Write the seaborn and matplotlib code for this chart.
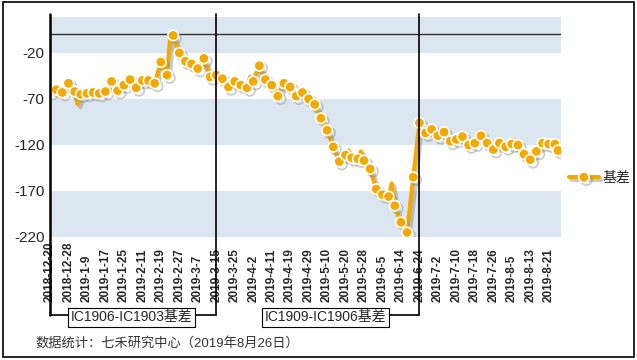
import matplotlib
matplotlib.use("Agg")
import matplotlib.pyplot as plt
import matplotlib.patheffects as pe
from matplotlib.patches import Rectangle
from matplotlib.lines import Line2D
import numpy as np
import seaborn as sns

# daily basis values (IC continuous)
basis = [
    -62, -61, -60, -61, -63, -58, -53, -57, -62, -76,
    -65, -64, -64, -63, -63, -64, -64, -63, -62, -56,
    -51, -56, -61, -58, -55, -52, -49, -54, -58, -54,
    -50, -50, -50, -52, -53, -42, -30, -37, -44, -6,
    -1, -11, -20, -25, -29, -31, -32, -35, -37, -31,
    -26, -36, -46, -45, -44, -46, -48, -53, -57, -54,
    -51, -53, -55, -57, -58, -46, -51, -42, -34, -42,
    -49, -52, -55, -61, -67, -60, -53, -55, -57, -62,
    -67, -65, -63, -67, -70, -73, -76, -83, -91, -97,
    -104, -113, -122, -130, -138, -134, -131, -126, -134, -135,
    -135, -127, -137, -142, -146, -157, -168, -171, -174, -175,
    -176, -162, -186, -196, -204, -210, -215, -185, -155, -125,
    -96, -101, -107, -105, -103, -107, -110, -108, -106, -111,
    -116, -115, -114, -112, -111, -116, -120, -119, -118, -114,
    -110, -114, -118, -121, -125, -121, -118, -120, -122, -120,
    -119, -115, -120, -125, -130, -133, -136, -132, -127, -123,
    -118, -119, -119, -119, -119, -126,
]

tick_labels = [
    "2018-12-20", "2018-12-28", "2019-1-9", "2019-1-17", "2019-1-25",
    "2019-2-11", "2019-2-19", "2019-2-27", "2019-3-7", "2019-3-15",
    "2019-3-25", "2019-4-2", "2019-4-11", "2019-4-19", "2019-4-29",
    "2019-5-10", "2019-5-20", "2019-5-28", "2019-6-5", "2019-6-14",
    "2019-6-24", "2019-7-2", "2019-7-10", "2019-7-18", "2019-7-26",
    "2019-8-5", "2019-8-13", "2019-8-21",
]
tick_step = 6

# contract roll dates (index of trading day) and box captions
roll_idx = [0, 54, 120]
roll_boxes = ["IC1906-IC1903基差", "IC1909-IC1906基差"]

yticks = [-20, -70, -120, -170, -220]
bands = [(-20, 19), (-120, -70), (-220, -170)]

orange = "#F2A900"
band_color = "#DCE6F1"

sns.set_style("white")
plt.rcParams["font.family"] = ["Liberation Sans", "Noto Sans CJK SC"]

fig = plt.figure(figsize=(6.37, 3.6), dpi=100)
ax = fig.add_axes([50 / 637, 1 - 237 / 360, 511 / 637, 220 / 360])

for lo, hi in bands:
    ax.axhspan(lo, hi, color=band_color, lw=0, zorder=0)
ax.axhline(0, color="#333333", lw=1, zorder=1)

x = np.arange(len(basis))
marks = list(range(0, len(basis), 2)) + [len(basis) - 1]
sns.lineplot(x=x, y=basis, ax=ax, color=orange, lw=3, marker="o",
             markersize=7.5, markeredgecolor="white", markeredgewidth=1.2,
             markevery=marks, label="基差", zorder=3,
             path_effects=[pe.SimpleLineShadow(offset=(2, -2), shadow_color="#888888", alpha=0.45),
                           pe.Normal()])

ax.set_xlim(0, 83 * 2)
ax.set_ylim(-220, 19)
ax.set_yticks(yticks)
ax.set_yticklabels([str(v) for v in yticks], fontsize=11)
ax.set_xticks(np.arange(len(tick_labels)) * tick_step)
ax.set_xticklabels(tick_labels, rotation=90, fontsize=8.5, fontweight="bold",
                   va="bottom", ha="center")
ax.tick_params(axis="x", length=0, pad=47)
ax.tick_params(axis="y", length=0, pad=4)
ax.set_xlabel("")
ax.set_ylabel("")
for s in ["top", "right", "bottom", "left"]:
    ax.spines[s].set_visible(False)

# roll markers: vertical lines dropping below the axis to caption boxes
trans = ax.get_xaxis_transform()
y_top, y_low = 1.015, -0.355
for k, xi in enumerate(roll_idx):
    lw = 1.8 if k == 0 else 1.2
    ax.add_line(Line2D([xi, xi], [y_top, y_low], transform=trans, color="black",
                       lw=lw, clip_on=False, zorder=4))
box_x = [(roll_idx[0] + roll_idx[1]) / 2 - 0.5, 89.5]
ax.add_line(Line2D([roll_idx[0], roll_idx[1]], [y_low, y_low], transform=trans,
                   color="black", lw=1.2, clip_on=False, zorder=4))
ax.add_line(Line2D([box_x[1], roll_idx[2]], [y_low, y_low], transform=trans,
                   color="black", lw=1.2, clip_on=False, zorder=4))
for bx, txt in zip(box_x, roll_boxes):
    ax.text(bx, y_low - 0.01, txt, transform=trans, ha="center", va="center",
            fontsize=10, zorder=5,
            bbox=dict(boxstyle="square,pad=0.18", fc="white", ec="black", lw=0.8))

leg = ax.legend(loc="center left", bbox_to_anchor=(1.0, 0.268), frameon=False,
                fontsize=10, handlelength=2.1, handletextpad=0.3, borderaxespad=0.2)

fig.text(35 / 637, 1 - 343 / 360, "数据统计：七禾研究中心（2019年8月26日）",
         fontsize=9.5, color="#333333", va="center", ha="left")

fig.patches.append(Rectangle((2.5 / 637, 3 / 360), 631.5 / 637, 355.5 / 360,
                             transform=fig.transFigure, fill=False,
                             edgecolor="black", lw=1.2))

fig.savefig("out.png", dpi=100)
